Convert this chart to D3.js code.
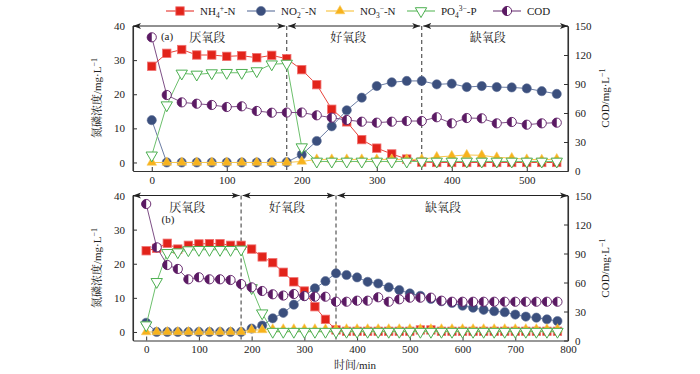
<!DOCTYPE html>
<html><head><meta charset="utf-8">
<script src="https://cdn.jsdelivr.net/npm/d3@7/dist/d3.min.js"></script>
<style>
body{margin:0;background:#fff}
svg{display:block}
text{font-family:"Liberation Serif","Times New Roman","Noto Serif CJK SC","Noto Sans CJK SC",serif;fill:#222}
</style>
</head><body>
<svg id="c" width="700" height="374"></svg>
<script>
// ---------- DATA ----------
const timeA = [0,20,40,60,80,100,120,140,160,180,200,220,240,260,280,300,320,340,360,380,400,420,440,460,480,500,520,540];
const nh4A  = [28.2,32.0,33.1,31.5,31.5,31.1,31.3,30.7,31.4,30.4,27.2,22.8,15.6,11.9,6.7,4.2,2.5,1.0,0.1,0,0,0,0,0,0,0,0,0];
const no2A  = [12.4,0,0,0,0,0,0,0,0,0.1,2.3,6.3,10.6,15.3,19.0,22.4,23.5,23.9,23.9,22.9,23.1,22.1,22.4,22.1,22.0,21.7,20.9,20.1];
const no3A  = [0,0,0,0,0,0,0,0,0,0,0.3,0.9,0.9,0.9,0.9,0.9,0.9,0.9,0.9,1.6,1.9,2.2,2.1,1.5,1.3,0.9,0.8,1.0];
const po4A  = [2.1,16.8,26.1,25.8,26.2,26.3,26.3,26.8,28.8,29.0,4.5,0.3,0.3,0.3,0.3,0.3,0.3,0.3,0.3,0.3,0.3,0.3,0.3,0.3,0.3,0.3,0.3,0.3];
const codA  = [138.3,78.6,71.0,69.6,68.3,66.2,66.9,62.1,60.3,60.5,60.5,57.6,55.2,52.8,51.0,50.0,51.0,51.7,51.7,55.6,49.3,54.8,54.5,49.3,50.7,47.9,49.3,50.0];

const timeB = [0,20,40,60,80,100,120,140,160,180,200,220,240,260,280,300,320,340,360,380,400,420,440,460,480,500,520,540,560,580,600,620,640,660,680,700,720,740,760,780];
const nh4B  = [23.8,24.5,26.0,24.3,25.4,25.8,25.9,25.9,25.4,25.4,24.3,22.0,20.3,17.5,14.7,12.0,7.4,3.7,0.6,0.2,0.2,0.2,0.2,0.2,0.2,0.2,0.6,0.6,0.2,0.2,0.2,0.2,0.2,0.2,0.2,0.2,0.2,0.2,0.2,0.2];
const no2B  = [2.7,0,0,0,0,0,0,0,0,0,1.0,1.9,4.0,5.6,8.0,10.5,12.8,14.9,17.2,16.7,16.0,14.7,14.2,13.1,12.3,11.3,10.6,9.7,9.0,8.5,7.7,7.1,6.5,6.1,5.8,5.1,4.5,4.2,3.7,3.2];
const no3B  = [0,0,0,0,0,0,0,0,0,0,0.6,0.6,0.8,0.8,0.8,0.8,0.8,0.8,0.8,0.8,0.8,0.8,0.8,0.8,0.8,0.8,0.8,0.8,0.8,0.8,0.8,0.8,0.8,0.8,0.8,0.8,0.8,0.8,0.8,0.8];
const po4B  = [2.0,14.7,23.2,23.4,24.0,24.1,24.1,24.1,24.1,24.2,12.9,5.5,0.1,0.1,0.1,0.1,0.1,0.1,0.1,0.1,0.1,0.1,0.1,0.1,0.1,0.1,0.1,0.1,0.1,0.1,0.1,0.1,0.1,0.1,0.1,0.1,0.1,0.1,0.1,0.1];
const codB  = [141.2,96.4,78.1,74.0,63.3,65.4,63.3,63.3,62.6,58.4,55.0,51.2,47.8,46.5,48.1,46.0,45.3,45.3,40.1,40.1,41.2,41.2,44.7,40.1,42.6,44.3,44.3,44.3,41.2,40.1,40.1,40.1,40.1,40.1,40.1,40.1,40.1,40.1,40.1,40.1];

const xTicksA = [0,100,200,300,400,500];
const xTicksB = [0,100,200,300,400,500,600,700,800];
const yTicksL = [0,10,20,30,40];
const yTicksR = [0,30,60,90,120,150];
const phaseNames = ["厌氧段","好氧段","缺氧段"];
const phaseBounds = [180,360];

// ---------- STYLE ----------
const col = {NH4:"#e2231a", NO2:"#3b4f7d", NO3:"#f7b21c", PO4:"#4caf50", COD:"#5b1a63"};
const lineCol = {NH4:"#e8443c", NO2:"#6a7ca3", NO3:"#f8c64a", PO4:"#6cc06c", COD:"#7e4f86"};

const svg = d3.select("#c");
const defs = svg.append("defs");
defs.append("marker").attr("id","arr").attr("viewBox","0 -4 8 8")
  .attr("refX",8).attr("refY",0).attr("markerWidth",8).attr("markerHeight",8)
  .attr("markerUnits","userSpaceOnUse").attr("orient","auto-start-reverse")
  .append("path").attr("d","M0,-3L8,0L0,3L2,0Z").attr("fill","#222");

function drawMarker(g, key, x, y){
  if(key==="NH4"){
    g.append("rect").attr("x",x-4.2).attr("y",y-4.2).attr("width",8.4).attr("height",8.4)
      .attr("fill",col.NH4).attr("stroke","#f07070").attr("stroke-width",0.8);
  } else if(key==="NO2"){
    g.append("circle").attr("cx",x).attr("cy",y).attr("r",4.6).attr("fill",col.NO2).attr("stroke","#5a6b94").attr("stroke-width",0.6);
  } else if(key==="NO3"){
    g.append("path").attr("transform",`translate(${x},${y})`)
      .attr("d",d3.symbol(d3.symbolTriangle,40)()).attr("fill",col.NO3).attr("stroke","#f9c95a").attr("stroke-width",0.6);
  } else if(key==="PO4"){
    g.append("path").attr("transform",`translate(${x},${y}) rotate(180)`)
      .attr("d",d3.symbol(d3.symbolTriangle,56)()).attr("fill","#fff").attr("stroke",col.PO4).attr("stroke-width",1);
  } else if(key==="COD"){
    g.append("circle").attr("cx",x).attr("cy",y).attr("r",4.6).attr("fill","#fff").attr("stroke",col.COD).attr("stroke-width",0.9);
    g.append("path").attr("transform",`translate(${x},${y})`)
      .attr("d",d3.arc()({innerRadius:0,outerRadius:4.6,startAngle:Math.PI,endAngle:2*Math.PI}))
      .attr("fill",col.COD);
  }
}

function panel(cfg){
  const g = svg.append("g");
  const x = d3.scaleLinear().domain(cfg.xDomain).range([133,568]);
  const yL = d3.scaleLinear().domain([-2.5,40]).range([cfg.bottom,cfg.top]);
  const yR = d3.scaleLinear().domain([0,150]).range([cfg.bottom,cfg.top]);

  const ax = g.append("g").attr("transform",`translate(0,${cfg.bottom})`)
    .call(d3.axisBottom(x).tickValues(cfg.xTicks).tickSize(-4).tickSizeOuter(0).tickPadding(5));
  const al = g.append("g").attr("transform",`translate(133,0)`)
    .call(d3.axisLeft(yL).tickValues(yTicksL).tickSize(-4).tickSizeOuter(0).tickPadding(8));
  const ar = g.append("g").attr("transform",`translate(568,0)`)
    .call(d3.axisRight(yR).tickValues(yTicksR).tickSize(-4).tickSizeOuter(0).tickPadding(7));
  [ax,al,ar].forEach(a=>{
    a.select(".domain").attr("stroke","#333").attr("stroke-width",1.1);
    a.selectAll(".tick line").attr("stroke","#333");
    a.selectAll("text").style("font-size","11px").attr("fill","#222");
  });
  g.append("line").attr("x1",133).attr("x2",133).attr("y1",cfg.top).attr("y2",cfg.bottom).attr("stroke","#333").attr("stroke-width",1.1);
  g.append("line").attr("x1",568).attr("x2",568).attr("y1",cfg.top).attr("y2",cfg.bottom).attr("stroke","#333").attr("stroke-width",1.1);

  const edges = [cfg.xDomain[0], ...phaseBounds, cfg.xDomain[1]];
  phaseBounds.forEach(b=>{
    g.append("line").attr("x1",x(b)).attr("x2",x(b)).attr("y1",cfg.top).attr("y2",cfg.bottom)
      .attr("stroke","#333").attr("stroke-width",1).attr("stroke-dasharray","4,3");
  });
  for(let i=0;i<3;i++){
    const x1 = x(edges[i]) + (i>0?1.5:0), x2 = x(edges[i+1]) - (i<2?1.5:0);
    g.append("line").attr("x1",x1).attr("x2",x2).attr("y1",cfg.top).attr("y2",cfg.top)
      .attr("stroke","#222").attr("stroke-width",1)
      .attr("marker-start","url(#arr)").attr("marker-end","url(#arr)");
    g.append("text").attr("x",x(cfg.phaseLabelX[i])).attr("y",cfg.top+16)
      .attr("text-anchor","middle").style("font-size","12px").text(phaseNames[i]);
  }
  g.append("text").attr("x",cfg.tag[0]).attr("y",cfg.tag[1]).attr("text-anchor","middle")
    .style("font-size","11px").text(cfg.tagText);

  const series = [
    {key:"NH4", vals:cfg.nh4, s:yL},
    {key:"NO2", vals:cfg.no2, s:yL},
    {key:"NO3", vals:cfg.no3, s:yL},
    {key:"PO4", vals:cfg.po4, s:yL},
    {key:"COD", vals:cfg.cod, s:yR}
  ];
  series.forEach(se=>{
    const pts = cfg.time.map((t,i)=>[x(t), se.s(se.vals[i])]);
    const sg = g.append("g");
    sg.append("path").attr("d",d3.line()(pts)).attr("fill","none")
      .attr("stroke",lineCol[se.key]).attr("stroke-width",1);
    pts.forEach(p=>drawMarker(sg, se.key, p[0], p[1]));
  });
}

panel({time:timeA, nh4:nh4A, no2:no2A, no3:no3A, po4:po4A, cod:codA,
  xDomain:[-25,555], xTicks:xTicksA, top:26, bottom:171,
  phaseLabelX:[74,262,448], tag:[167,40], tagText:"(a)"});
panel({time:timeB, nh4:nh4B, no2:no2B, no3:no3B, po4:po4B, cod:codB,
  xDomain:[-25,800], xTicks:xTicksB, top:195.5, bottom:340.5,
  phaseLabelX:[78,267,563], tag:[168,223], tagText:"(b)"});

function yLabel(xp, yp, parts){
  const t = svg.append("text").attr("transform",`translate(${xp},${yp}) rotate(-90)`)
    .attr("text-anchor","middle").style("font-size","11px");
  parts.forEach(p=>{
    const ts = t.append("tspan").text(p.t);
    if(p.sup){ ts.attr("dy",-4).style("font-size","8px"); }
  });
}
yLabel(101, 98, [{t:"氮磷浓度/mg·L"},{t:"−1",sup:true}]);
yLabel(101, 268, [{t:"氮磷浓度/mg·L"},{t:"−1",sup:true}]);
yLabel(609, 98, [{t:"COD/mg·L"},{t:"−1",sup:true}]);
yLabel(609, 268, [{t:"COD/mg·L"},{t:"−1",sup:true}]);
svg.append("text").attr("x",355).attr("y",369).attr("text-anchor","middle").style("font-size","11px").text("时间/min");

// legend
const legendItems = [
  {key:"NH4", x:166, parts:[["NH",""],["4","sub"],["+","sup"],["-N",""]]},
  {key:"NO2", x:247, parts:[["NO",""],["2","sub"],["−","sup"],["-N",""]]},
  {key:"NO3", x:326, parts:[["NO",""],["3","sub"],["−","sup"],["-N",""]]},
  {key:"PO4", x:407, parts:[["PO",""],["4","sub"],["3−","sup"],["-P",""]]},
  {key:"COD", x:493, parts:[["COD",""]]}
];
const lg = svg.append("g");
legendItems.forEach(it=>{
  const ly = 11;
  lg.append("line").attr("x1",it.x).attr("x2",it.x+28).attr("y1",ly).attr("y2",ly)
    .attr("stroke",lineCol[it.key]).attr("stroke-width",1.2);
  drawMarker(lg, it.key, it.x+14, ly);
  const t = lg.append("text").attr("x",it.x+34).attr("y",ly+4).style("font-size","11px");
  let prev = "";
  it.parts.forEach(([s,kind])=>{
    const ts = t.append("tspan").text(s);
    if(kind==="sub"){ ts.attr("dy",3).style("font-size","7.5px"); }
    else if(kind==="sup"){ ts.attr("dy",-7).style("font-size","7.5px"); }
    else if(prev==="sup"){ ts.attr("dy",4); }
    prev = kind;
  });
});
</script>
</body></html>
